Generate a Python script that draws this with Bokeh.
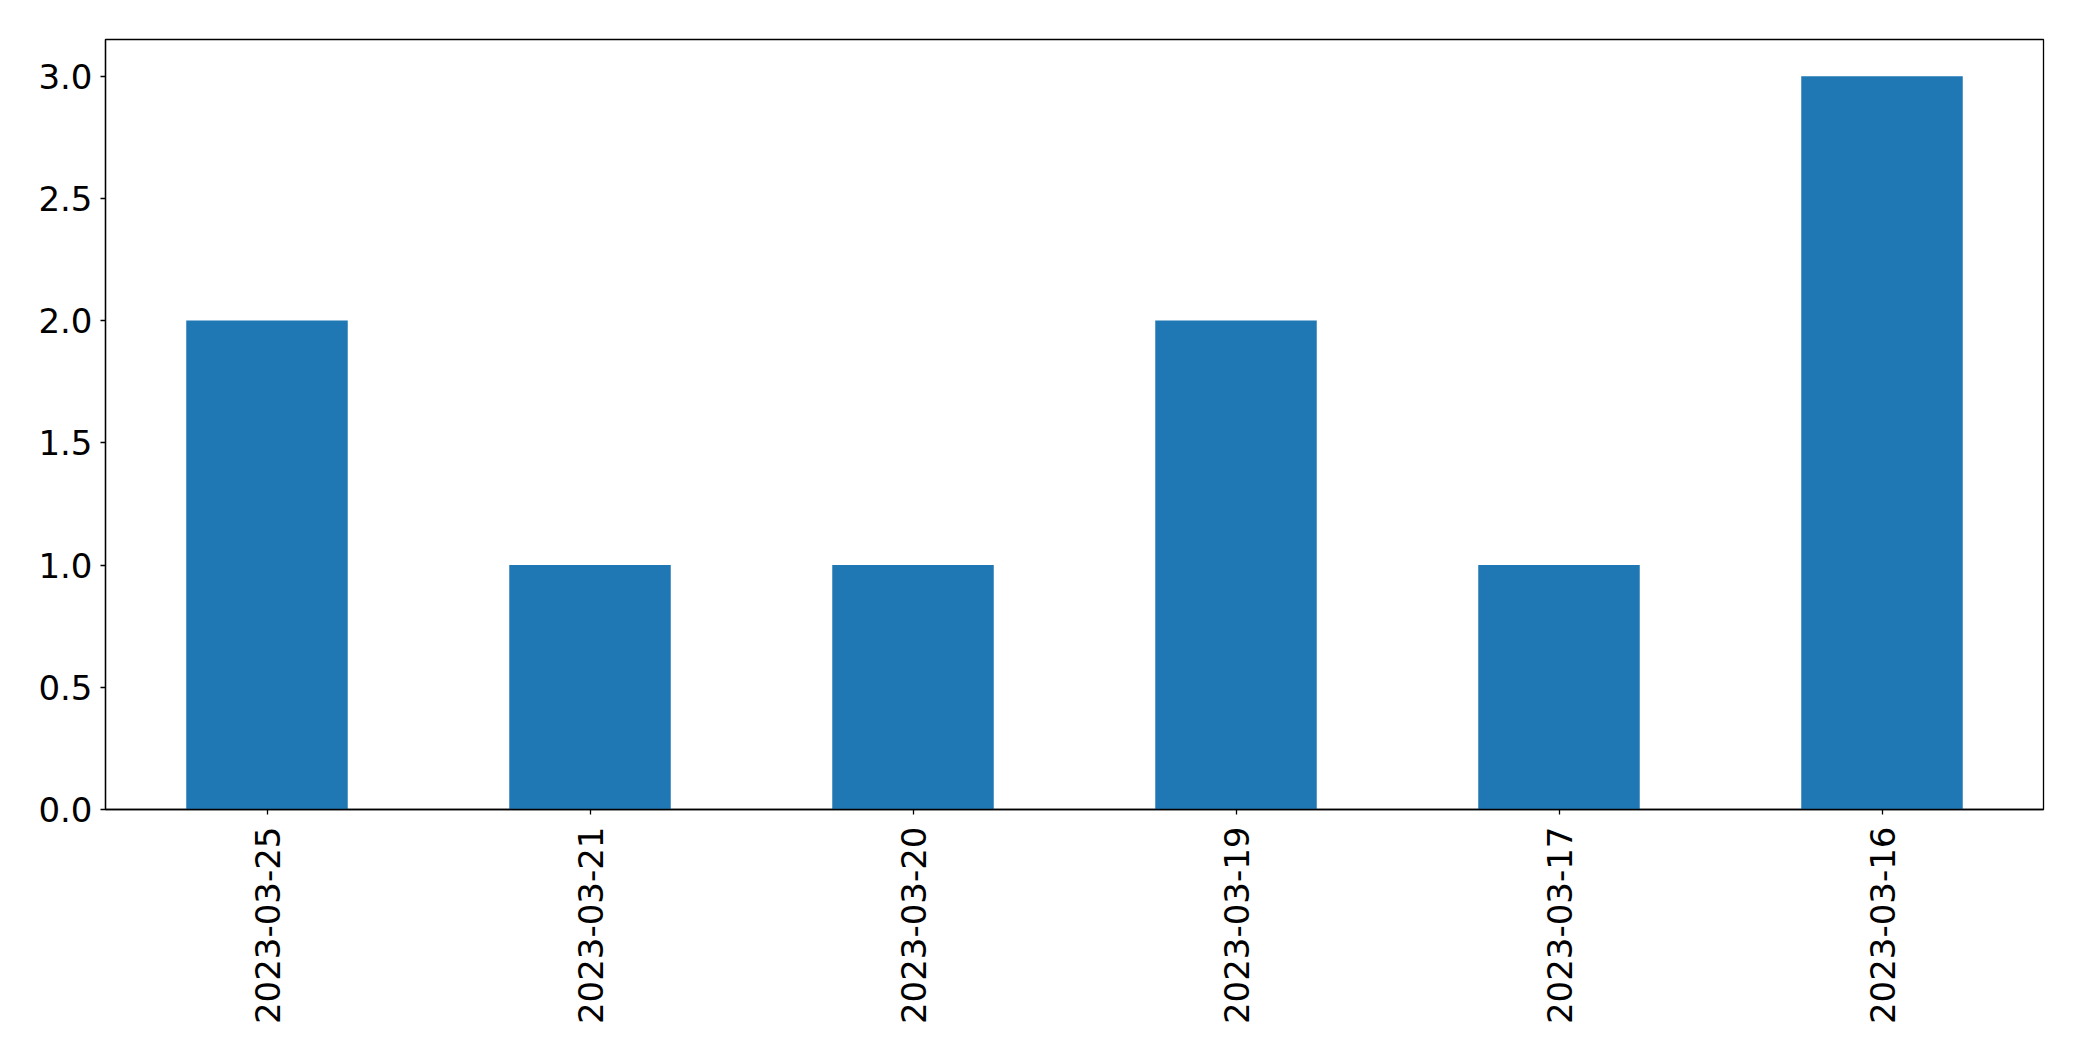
import math
from bokeh.plotting import figure
from bokeh.models import FactorRange, Range1d, FixedTicker, NumeralTickFormatter
from bokeh.embed import file_html
from bokeh.resources import INLINE

dates = ["2023-03-25", "2023-03-21", "2023-03-20", "2023-03-19", "2023-03-17", "2023-03-16"]
counts = [2, 1, 1, 2, 1, 3]
y_ticks = [0.0, 0.5, 1.0, 1.5, 2.0, 2.5, 3.0]

p = figure(
    x_range=FactorRange(factors=dates),
    y_range=Range1d(0, 3.15),
    width=2074, height=1053,
    output_backend="svg", toolbar_location=None,
    min_border_left=105, min_border_right=31, min_border_top=39, min_border_bottom=244,
)
p.vbar(x=dates, top=counts, width=0.5, color="#1f77b4", line_color=None)

p.xgrid.visible = False
p.ygrid.visible = False
p.outline_line_color = "black"
p.outline_line_width = 1.3
p.outline_line_alpha = 1

font = "DejaVu Sans"
for ax in (p.xaxis[0], p.yaxis[0]):
    ax.axis_line_color = "black"
    ax.axis_line_width = 1.3
    ax.major_tick_line_color = "black"
    ax.major_tick_line_width = 1.3
    ax.major_tick_out = 5
    ax.major_tick_in = 0
    ax.minor_tick_line_color = None
    ax.major_label_text_font = font
    ax.major_label_text_font_size = "34px"
    ax.major_label_text_color = "black"

p.yaxis.ticker = FixedTicker(ticks=y_ticks)
p.yaxis.formatter = NumeralTickFormatter(format="0.0")
p.yaxis.major_label_standoff = 8
p.xaxis.major_label_orientation = math.pi / 2
p.xaxis.major_label_standoff = 12

open("out.html", "w").write(file_html(p, INLINE))
